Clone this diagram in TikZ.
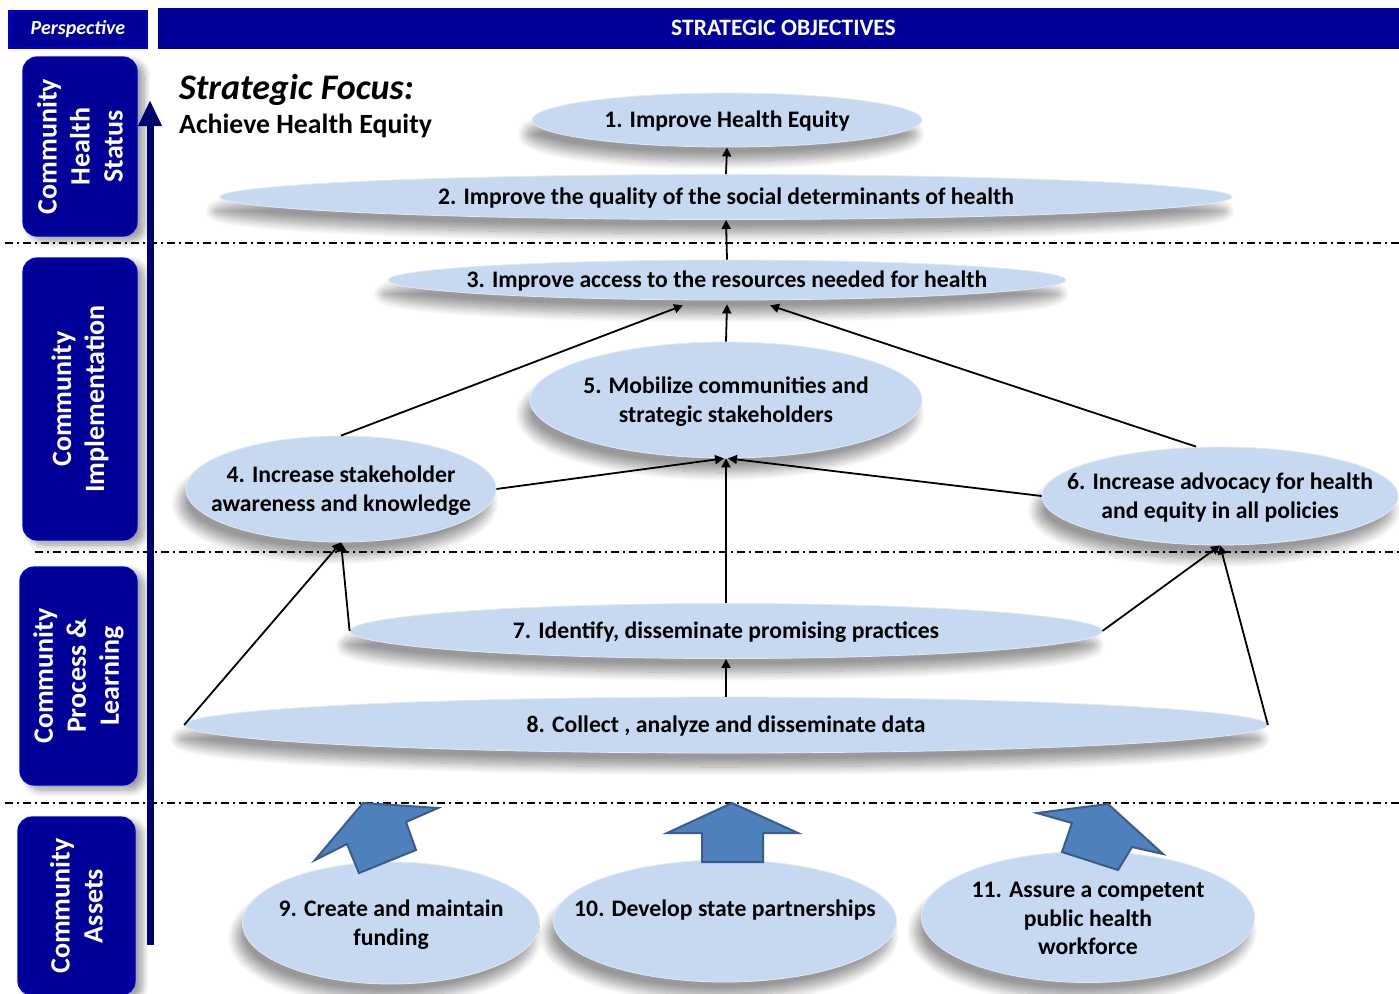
\documentclass[tikz,border=0pt]{standalone}
\usepackage{fontspec}
\setmainfont{Carlito}
\usetikzlibrary{shapes.geometric,arrows.meta,shadows.blur}
\definecolor{navy}{RGB}{0,0,153}
\definecolor{arrnavy}{RGB}{0,0,110}
\definecolor{ellfill}{RGB}{198,217,240}
\definecolor{barrow}{RGB}{79,129,189}
\definecolor{barrowline}{RGB}{56,93,138}
\begin{document}
\begin{tikzpicture}[x=1pt,y=-1pt,
  obj/.style={ellipse, fill=ellfill, draw=white!45!ellfill, line width=0.8pt, inner sep=0pt,
    blur shadow={shadow xshift=-6pt, shadow yshift=-14pt, shadow blur radius=9pt, shadow blur steps=12, shadow opacity=40}},
  lbl/.style={font=\fontsize{23.7}{28.5}\selectfont\bfseries, align=center, text=black, inner sep=0pt, yshift=-1.5pt},
  pbox/.style={rectangle, rounded corners=14pt, fill=navy, draw=blue!45!navy, line width=1.2pt, inner sep=0pt,
    blur shadow={shadow xshift=7pt, shadow yshift=-5pt, shadow blur radius=7pt, shadow blur steps=8, shadow opacity=40}},
  ptxt/.style={rotate=90, font=\fontsize{28}{33}\selectfont\bfseries, align=center, text=white, inner sep=0pt},
  hdr/.style={rectangle, fill=navy, inner sep=0pt, text=white},
  conn/.style={line width=1.8pt, -{Triangle[length=9pt,width=9pt]}},
  sep/.style={line width=1.4pt, dash pattern=on 8pt off 4pt on 2pt off 4pt},
  blockarrow/.style={fill=barrow, draw=barrowline, line width=2pt, line join=miter}
]
\useasboundingbox (0,0) rectangle (1399,993);

% header
\node[hdr, draw=blue!55!navy, line width=2pt, minimum width=138pt, minimum height=37pt,
  font=\fontsize{20}{22}\selectfont\bfseries\itshape] (persp) at (78,29) {Perspective};
\node[hdr, minimum width=1241pt, minimum height=41pt,
  label={[text=white, inner sep=0pt, xshift=5pt, font=\fontsize{23.5}{26}\selectfont\bfseries]center:STRATEGIC OBJECTIVES}] (strat) at (778.5,28) {};

% separators
\draw[sep] (5,243) -- (1399,243);
\draw[sep] (35,552) -- (1399,552);
\draw[sep] (5,803) -- (1399,803);

% perspective boxes
\node[pbox, minimum width=114pt, minimum height=179pt, label={[ptxt]center:{Community\\Health\\Status}}] (p1) at (80,146.5) {};
\node[pbox, minimum width=114pt, minimum height=282pt, label={[ptxt]center:{Community\\Implementation}}] (p2) at (80,399) {};
\node[pbox, minimum width=117pt, minimum height=218pt, label={[ptxt]center:{Community\\Process \&\\Learning}}] (p3) at (78.5,676) {};
\node[pbox, minimum width=117pt, minimum height=178pt, label={[ptxt]center:{Community\\Assets}}] (p4) at (76.5,906) {};

% vertical arrow
\coordinate (vbot) at (150,945);
\coordinate (vtop) at (150,100);
\draw[arrnavy, line width=7pt, -{Triangle[length=26pt,width=22pt]}] (vbot) -- (vtop);

% strategic focus
\node[anchor=west, inner sep=0pt, font=\fontsize{36}{40}\selectfont\bfseries\itshape] (sf) at (179,90) {Strategic Focus:};
\node[anchor=west, inner sep=0pt, font=\fontsize{27.8}{30}\selectfont\bfseries] (ahe) at (179,126) {Achieve Health Equity};

% objectives
\node[obj, minimum width=390pt, minimum height=54pt, label={[lbl]center:{1. Improve Health Equity}}] (n1) at (727,120) {};
\node[obj, minimum width=1012pt, minimum height=45pt, label={[lbl]center:{2. Improve the quality of the social determinants of health}}] (n2) at (726,197) {};
\node[obj, minimum width=678pt, minimum height=40pt, label={[lbl]center:{3. Improve access to the resources needed for health}}] (n3) at (727,280) {};
\node[obj, minimum width=392pt, minimum height=116pt, label={[lbl]center:{5. Mobilize communities and\\strategic stakeholders}}] (n5) at (726,400) {};
\node[obj, minimum width=310pt, minimum height=106pt, label={[lbl]center:{4. Increase stakeholder\\awareness and knowledge}}] (n4) at (341,489) {};
\node[obj, minimum width=356pt, minimum height=98pt, label={[lbl]center:{6. Increase advocacy for health\\and equity in all policies}}] (n6) at (1220,496) {};
\node[obj, minimum width=752pt, minimum height=55pt, label={[lbl]center:{7. Identify, disseminate promising practices}}] (n7) at (726,631) {};
\node[obj, minimum width=1083pt, minimum height=56pt, label={[lbl]center:{8. Collect , analyze and disseminate data}}] (n8) at (726,725) {};
\node[obj, minimum width=297pt, minimum height=122pt, label={[lbl]center:{9. Create and maintain\\funding}}] (n9) at (391,923) {};
\node[obj, minimum width=343pt, minimum height=122pt, label={[lbl, yshift=12pt]center:{10. Develop state partnerships}}] (n10) at (725,921) {};
\node[obj, minimum width=333pt, minimum height=131pt, label={[lbl]center:{11. Assure a competent\\public health\\workforce}}] (n11) at (1088,917) {};

% block arrows
\draw[blockarrow] (363,803) -- (438,808) -- (406,822) -- (416,850) -- (359,873) -- (347,844) -- (315,860) -- cycle;
\draw[blockarrow] (732,803) -- (798,833) -- (763,833) -- (763,862) -- (702,862) -- (702,833) -- (667,833) -- cycle;
\draw[blockarrow] (1108,804) -- (1163,854) -- (1132,847) -- (1118,870) -- (1062,852) -- (1072,823) -- (1037,813) -- cycle;

% connectors
\draw[conn] (n2.north) -- (n1.south);
\draw[conn] (n3.north) -- (n2.south);
\draw[conn] (n5.north) -- ([yshift=-4pt]n3.south);
\draw[conn] (n4.north) -- ([xshift=-44pt,yshift=-5pt]n3.south);
\draw[conn] ([xshift=-24pt]n6.north) -- ([xshift=43pt,yshift=-5pt]n3.south);
\draw[conn] (n4.east) -- ([xshift=-2pt]n5.south);
\draw[conn] (n6.west) -- ([xshift=2pt]n5.south);
\draw[conn] (n7.north) -- (n5.south);
\draw[conn] (n7.west) -- (n4.south);
\draw[conn] (n8.west) -- (n4.south);
\draw[conn] (n7.east) -- (n6.south);
\draw[conn] (n8.east) -- (n6.south);
\draw[conn] (n8.north) -- (n7.south);
\end{tikzpicture}
\end{document}
